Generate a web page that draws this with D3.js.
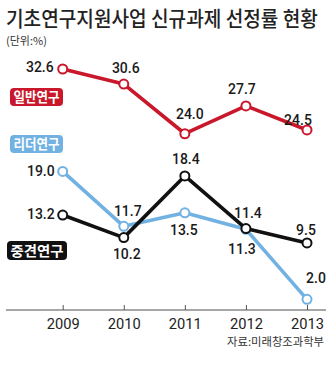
<!DOCTYPE html>
<html><head><meta charset="utf-8">
<script src="https://cdn.jsdelivr.net/npm/d3@7"></script>
<style>
html,body{margin:0;padding:0;background:#fff;}
svg{display:block;}
</style></head>
<body>
<svg id="chart" width="326" height="387"></svg>
<script>
const years = ["2009","2010","2011","2012","2013"];
const general = [32.6, 30.6, 24.0, 27.7, 24.5];   // 일반연구
const leader  = [19.0, 11.7, 13.5, 11.3, 2.0];    // 리더연구
const midcareer = [13.2, 10.2, 18.4, 11.4, 9.5];  // 중견연구
const seriesNames = ["일반연구", "리더연구", "중견연구"];
const titleText = "기초연구지원사업 신규과제 선정률 현황";
const unitText = "(단위:%)";
const sourceText = "자료:미래창조과학부";

const svg = d3.select("#chart");
const x = d3.scalePoint().domain(years).range([62.7, 307]);
const y = d3.scaleLinear().domain([0, 32.6]).range([314.4, 69]);

// place a text compressed horizontally to a target width via transform
function fitText(sel, px, py, width, anchor) {
  const node = sel.node();
  const w = node.getComputedTextLength();
  const s = Math.min(1, width / w);
  sel.attr("x", 0).attr("y", 0).attr("text-anchor", anchor || "start")
    .attr("transform", `translate(${px},${py}) scale(${s},1)`);
  return sel;
}

// title
fitText(svg.append("text")
  .attr("font-family", "'Noto Sans CJK KR'").attr("font-size", 21).attr("font-weight", 500)
  .attr("fill", "#222").text(titleText), 6, 26, 312);
fitText(svg.append("text")
  .attr("font-family", "'Noto Sans CJK KR'").attr("font-size", 11)
  .attr("fill", "#333").text(unitText), 6, 45, 43);

// axis
svg.append("line").attr("x1", 6).attr("x2", 326).attr("y1", 310).attr("y2", 310)
  .attr("stroke", "#8a8a8a").attr("stroke-width", 1.5);
const xAxis = d3.axisBottom(x).tickSize(0).tickPadding(0);
const ax = svg.append("g").attr("transform", "translate(0,310)").call(xAxis);
ax.select(".domain").remove();
ax.selectAll(".tick").append("line").attr("y1", -5).attr("y2", 0).attr("stroke", "#555").attr("stroke-width", 1);
ax.selectAll(".tick text").attr("y", 18.5).attr("dy", 0)
  .attr("font-family", "Roboto").attr("font-size", 15.5).attr("fill", "#222")
  .attr("textLength", 33).attr("lengthAdjust", "spacingAndGlyphs");

const colors = {general: "#c9182b", leader: "#72b2e2", mid: "#111111"};
const line = d3.line().x((d, i) => x(years[i])).y(d => y(d));

function drawSeries(data, color) {
  svg.append("path").datum(data).attr("d", line)
    .attr("fill", "none").attr("stroke", color).attr("stroke-width", 3.6)
    .attr("stroke-linejoin", "round");
  svg.selectAll(null).data(data).enter().append("circle")
    .attr("cx", (d, i) => x(years[i])).attr("cy", d => y(d)).attr("r", 4.5)
    .attr("fill", "#fff").attr("stroke", color).attr("stroke-width", 2);
}
drawSeries(leader, colors.leader);
drawSeries(midcareer, colors.mid);
drawSeries(general, colors.general);

// value labels: offsets [dx, dy, anchor]
const genOff = [[-9, -2, "end"], [2, -16, "middle"], [5, -20, "middle"], [-4, -17, "middle"], [-9, -10, "middle"]];
const leadOff = [[-8, 0, "end"], [4, -15, "middle"], [-1, 17, "middle"], [-4, 20, "middle"], [9, -21, "middle"]];
const midOff = [[-8, -1, "end"], [3, 16, "middle"], [1, -17, "middle"], [2, -16, "middle"], [-1, -13, "middle"]];

function drawLabels(data, offs) {
  svg.selectAll(null).data(data).enter().append("text")
    .attr("x", (d, i) => x(years[i]) + offs[i][0])
    .attr("y", (d, i) => y(d) + offs[i][1])
    .attr("dy", "0.36em")
    .attr("text-anchor", (d, i) => offs[i][2])
    .attr("font-family", "Roboto").attr("font-size", 14).attr("font-weight", 500)
    .attr("fill", "#1a1a1a")
    .text(d => d.toFixed(1));
}
drawLabels(general, genOff);
drawLabels(leader, leadOff);
drawLabels(midcareer, midOff);

// legend badges
const badges = [
  {name: seriesNames[0], color: colors.general, x: 10, y: 88, w: 53, h: 18},
  {name: seriesNames[1], color: colors.leader, x: 10, y: 135, w: 53, h: 18},
  {name: seriesNames[2], color: colors.mid, x: 7, y: 241, w: 60, h: 19}
];
badges.forEach(b => {
  svg.append("rect").attr("x", b.x).attr("y", b.y).attr("width", b.w).attr("height", b.h)
    .attr("rx", 4).attr("fill", b.color);
  svg.append("text").attr("x", b.x + b.w / 2).attr("y", b.y + b.h / 2).attr("dy", "0.36em")
    .attr("text-anchor", "middle")
    .attr("font-family", "'Noto Sans CJK KR'").attr("font-size", 14).attr("font-weight", 700)
    .attr("fill", "#fff").attr("textLength", b.w - 7).attr("lengthAdjust", "spacingAndGlyphs")
    .text(b.name);
});

// source
fitText(svg.append("text")
  .attr("font-family", "'Noto Sans CJK KR'").attr("font-size", 11.5)
  .attr("fill", "#333").text(sourceText), 324, 346, 97, "end");
</script>
</body></html>
